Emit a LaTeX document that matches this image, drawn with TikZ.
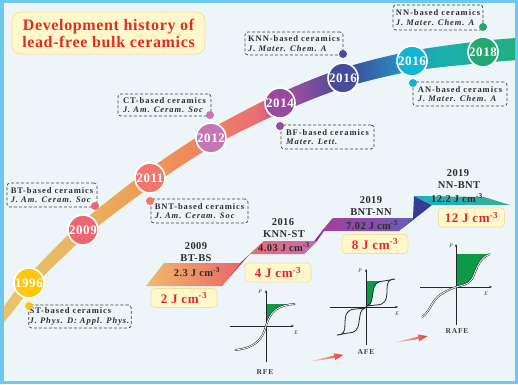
\documentclass[tikz,border=0pt]{standalone}
\usepackage{fontspec}
\setmainfont{Liberation Serif}[LetterSpace=4]
\newfontfamily\widefont{Liberation Serif}[LetterSpace=11]
\usetikzlibrary{arrows.meta}
\definecolor{framecol}{HTML}{6DC8F0}
\definecolor{bgcol}{HTML}{EEF5F8}
\definecolor{titlefill}{HTML}{FFF8CC}
\definecolor{titledraw}{HTML}{F2E19A}
\definecolor{titlered}{HTML}{E52A22}
\definecolor{valred}{HTML}{E5242A}
\definecolor{labelgray}{HTML}{2E2E2E}
\definecolor{y1996}{HTML}{FFC60B}
\definecolor{y2009}{HTML}{EE6471}
\definecolor{y2011}{HTML}{F1766C}
\definecolor{y2012}{HTML}{C676B4}
\definecolor{y2014}{HTML}{994A9C}
\definecolor{y2016a}{HTML}{454C9C}
\definecolor{y2016b}{HTML}{12B5D2}
\definecolor{y2018}{HTML}{23A872}
\definecolor{greenfill}{HTML}{0A9A48}
\definecolor{arrowred}{HTML}{E83828}
\definecolor{b0}{HTML}{E9C46A}
\definecolor{b1}{HTML}{E8B462}
\definecolor{b2}{HTML}{EE9956}
\definecolor{b3}{HTML}{EE7F64}
\definecolor{b4}{HTML}{EC7072}
\definecolor{b5}{HTML}{A0509C}
\definecolor{b6}{HTML}{5A4A9C}
\definecolor{b7}{HTML}{3E4C9C}
\definecolor{b8}{HTML}{2A8CC0}
\definecolor{b9}{HTML}{1CB0B0}
\definecolor{b10}{HTML}{22AE80}
\pgfdeclarehorizontalshading{bandshade}{100bp}{color(0bp)=(b0); color(26.6bp)=(b0); color(33.4bp)=(b1); color(40bp)=(b2); color(46.2bp)=(b3); color(49.9bp)=(b4); color(53.3bp)=(b5); color(57bp)=(b6); color(58.9bp)=(b7); color(63.7bp)=(b8); color(67.4bp)=(b9); color(75bp)=(b10); color(100bp)=(b10)}
\tikzset{
  yr/.style={circle, draw=white, line width=1.6pt, minimum size=30pt, inner sep=0pt, text=white, font=\bfseries\fontsize{13}{13}\selectfont},
  dot/.style={circle, minimum size=8pt, inner sep=0pt},
  refbox/.style={draw=black!75, dash pattern=on 3pt off 2pt, line width=0.7pt, rounded corners=3pt, align=left, inner sep=1pt, text=labelgray, font=\widefont\fontsize{8.5}{9.5}\selectfont\bfseries},
  steptxt/.style={font=\bfseries\fontsize{10.5}{11}\selectfont, text=labelgray, inner sep=0pt},
  valbox/.style={draw=titledraw, fill=titlefill, rounded corners=4pt, line width=0.7pt, minimum width=66pt, minimum height=19pt, inner sep=0pt, text=valred, font=\bfseries\fontsize{13}{13}\selectfont},
  axisline/.style={draw=black!85, line width=0.8pt, -{Stealth[length=3pt,width=2.4pt]}},
  axlab/.style={font=\itshape\fontsize{5.5}{6}\selectfont, text=black!80, inner sep=0pt},
  loopline/.style={draw=black!85, line width=0.5pt, double=white, double distance=0.8pt},
  afeline/.style={draw=black!85, line width=0.8pt},
  typelab/.style={font=\widefont\bfseries\fontsize{7.5}{7.5}\selectfont, text=black!75, inner sep=0pt},
}
\begin{document}
\begin{tikzpicture}[x=1pt,y=-1pt]
\fill[framecol] (0,0) rectangle (518,384);
\fill[bgcol] (4,3) rectangle (515,381);
\useasboundingbox (0,0) rectangle (518,384);
% timeline band
\begin{scope}
\clip (4,3) rectangle (515,381);
\shade[shading=bandshade] plot[smooth] coordinates {(-9,322) (2.1,308.9) (25.0,279.2) (78.7,225.1) (145.6,171.9) (207,131.1) (276.3,94.8) (340.1,69.0) (410.2,51.2) (480.8,41.1) (520,37.8)}
  -- plot[smooth] coordinates {(520,59.8) (483.2,62.9) (413.8,70.8) (345.9,87.0) (283.7,111.2) (215,144.9) (154.4,184.1) (87.3,234.9) (33.0,286.8) (9.9,315.1) (-1,328)} -- cycle;
\end{scope}
% title
\node[draw=titledraw, fill=titlefill, rounded corners=9pt, line width=0.8pt, minimum width=193pt, minimum height=42pt, align=center, text=titlered, font=\bfseries\fontsize{16}{17}\selectfont] (title) at (108.5,33) {Development history of\\lead-free bulk ceramics};
% year circles
\node[yr, fill=y1996] (c1996) at (29,283) {1996};
\node[yr, fill=y2009] (c2009) at (83,230) {2009};
\node[yr, fill=y2011] (c2011) at (150,178) {2011};
\node[yr, fill=y2012] (c2012) at (211,138) {2012};
\node[yr, fill=y2014] (c2014) at (280,103) {2014};
\node[yr, fill=y2016a] (c2016a) at (343,78) {2016};
\node[yr, fill=y2016b] (c2016b) at (412,61) {2016};
\node[yr, fill=y2018] (c2018) at (483,52) {2018};
% reference boxes
\node[refbox, minimum width=102pt, minimum height=23pt] (rST) at (80,316.5) {ST-based ceramics\\\textit{J. Phys. D: Appl. Phys.}};
\node[refbox, minimum width=90pt, minimum height=24pt] (rBT) at (52,195) {BT-based ceramics\\\textit{J. Am. Ceram. Soc}};
\node[refbox, minimum width=97pt, minimum height=24pt] (rBNT) at (199.5,211) {BNT-based ceramics\\\textit{J. Am. Ceram. Soc}};
\node[refbox, minimum width=93pt, minimum height=22pt] (rCT) at (164.5,105) {CT-based ceramics\\\textit{J. Am. Ceram. Soc}};
\node[refbox, minimum width=93pt, minimum height=24pt] (rBF) at (327.5,137) {BF-based ceramics\\\textit{Mater. Lett.}};
\node[refbox, minimum width=98pt, minimum height=23pt] (rKNN) at (294,43.5) {KNN-based ceramics\\\textit{J. Mater. Chem. A}};
\node[refbox, minimum width=94pt, minimum height=24pt] (rAN) at (460,94) {AN-based ceramics\\\textit{J. Mater. Chem. A}};
\node[refbox, minimum width=90pt, minimum height=25pt] (rNN) at (438,17.5) {NN-based ceramics\\\textit{J. Mater. Chem. A}};
% dots
\node[dot, fill=y1996] (dST) at (29,306) {};
\node[dot, fill=y2009] (dBT) at (95,206) {};
\node[dot, fill=y2011] (dBNT) at (150,201) {};
\node[dot, fill=y2012] (dCT) at (210,115) {};
\node[dot, fill=y2014] (dBF) at (280,126) {};
\node[dot, fill=y2016a] (dKNN) at (343,54) {};
\node[dot, fill=y2016b] (dAN) at (413,83) {};
\node[dot, fill=y2018] (dNN) at (483,27) {};
% staircase
\fill[fill={rgb,255:red,200;green,64;blue,74}] (222,286) -- (250,254) -- (264,241) -- (240,263) -- cycle;
\fill[fill={rgb,255:red,138;green,58;blue,136}] (304,254) -- (322,231) -- (333,218) -- (317,241) -- cycle;
\fill[fill={rgb,255:red,54;green,60;blue,150}] (399,231) -- (432,205) -- (414,196) -- (413,218) -- cycle;
\shade[left color={rgb,255:red,241;green,186;blue,104}, right color={rgb,255:red,232;green,104;blue,104}] (146,286) -- (164,263) -- (240,263) -- (222,286) -- cycle;
\shade[left color={rgb,255:red,238;green,108;blue,112}, right color={rgb,255:red,198;green,106;blue,180}] (250,254) -- (264,241) -- (317,241) -- (304,254) -- cycle;
\shade[left color={rgb,255:red,160;green,64;blue,156}, right color={rgb,255:red,108;green,92;blue,184}] (322,231) -- (333,218) -- (413,218) -- (399,231) -- cycle;
\shade[left color={rgb,255:red,24;green,176;blue,200}, right color={rgb,255:red,56;green,176;blue,144}] (432,205) -- (414,196) -- (484,197) -- (510,205) -- cycle;
% step texts
\node[steptxt] (t1y) at (196,246) {2009};
\node[steptxt] (t1n) at (196,258) {BT-BS};
\node[steptxt] (t1v) at (197,272) {2.3 J cm\textsuperscript{-3}};
\node[steptxt] (t2y) at (283,222) {2016};
\node[steptxt] (t2n) at (284,234) {KNN-ST};
\node[steptxt] (t2v) at (284,247) {4.03 J cm\textsuperscript{-3}};
\node[steptxt] (t3y) at (371,200) {2019};
\node[steptxt] (t3n) at (371,212) {BNT-NN};
\node[steptxt] (t3v) at (372,225) {7.02 J cm\textsuperscript{-3}};
\node[steptxt] (t4y) at (458,173) {2019};
\node[steptxt] (t4n) at (459,185) {NN-BNT};
\node[steptxt] (t4v) at (457,198) {12.2 J cm\textsuperscript{-3}};
% value boxes
\node[valbox] (v1) at (184,298) {2 J cm\textsuperscript{-3}};
\node[valbox] (v2) at (278,272.5) {4 J cm\textsuperscript{-3}};
\node[valbox] (v3) at (375,244) {8 J cm\textsuperscript{-3}};
\node[valbox] (v4) at (471.5,217.5) {12 J cm\textsuperscript{-3}};
% RFE
\fill[greenfill] (266,304) -- (295,304) .. controls (277,305) and (270,312) .. (266,326) -- cycle;
\draw[axisline] (266,362) -- (266,290);
\draw[axisline] (230,326) -- (294,326);
\node[axlab] (pRFE) at (260,292) {P};
\node[axlab] (eRFE) at (296,333) {E};
\draw[loopline] (235,350) .. controls (255,348) and (262,340) .. (266,326) .. controls (270,312) and (277,305) .. (295,304);
\node[typelab] (lRFE) at (265,372) {RFE};
% AFE
\fill[greenfill] (366,281) -- (384,281) .. controls (377,281) and (374,284) .. (373,292) .. controls (372,298) and (372,305) .. (367,306) -- (366,306) -- cycle;
\draw[axisline] (366,345) -- (366,269);
\draw[axisline] (330,307) -- (398,307);
\node[axlab] (pAFE) at (360,271) {P};
\node[axlab] (eAFE) at (397,314) {E};
\draw[afeline] (367,306) .. controls (372,305) and (372,298) .. (373,292) .. controls (374,284) and (377,281) .. (384,281) -- (395,279) .. controls (388,279) and (387,283) .. (387,290) .. controls (387,300) and (385,305) .. (376,305) -- cycle;
\begin{scope}[rotate around={180:(366,307)}]
\draw[afeline] (367,306) .. controls (372,305) and (372,298) .. (373,292) .. controls (374,284) and (377,281) .. (384,281) -- (395,279) .. controls (388,279) and (387,283) .. (387,290) .. controls (387,300) and (385,305) .. (376,305) -- cycle;
\end{scope}
\node[typelab] (lAFE) at (366,352) {AFE};
% RAFE
\fill[greenfill] (456,254) -- (490,254) .. controls (478,258) and (476,272) .. (472,279) .. controls (468,285) and (462,285) .. (456,287) -- cycle;
\draw[axisline] (456,325) -- (456,244);
\draw[axisline] (420,287) -- (492,287);
\node[axlab] (pRAFE) at (451,246) {P};
\node[axlab] (eRAFE) at (486,294) {E};
\draw[loopline] (422,317) .. controls (430,312) and (432,300) .. (440,295) .. controls (446,291) and (450,289) .. (456,287) .. controls (462,285) and (468,285) .. (472,279) .. controls (476,272) and (478,258) .. (490,254);
\node[typelab] (lRAFE) at (457,331) {RAFE};
% arrows
\foreach \tx/\ty/\ang [count=\i] in {308/362/11.3, 392/343/11.0}{
\begin{scope}[shift={(\tx,\ty)}, rotate=\ang]
\shade[left color=bgcol, right color=arrowred] (0,-0.3) -- (27,-1.2) -- (27,-3.6) -- (36,0) -- (27,3.6) -- (27,1.2) -- (0,0.3) -- cycle;
\end{scope}
}
\end{tikzpicture}
\end{document}
